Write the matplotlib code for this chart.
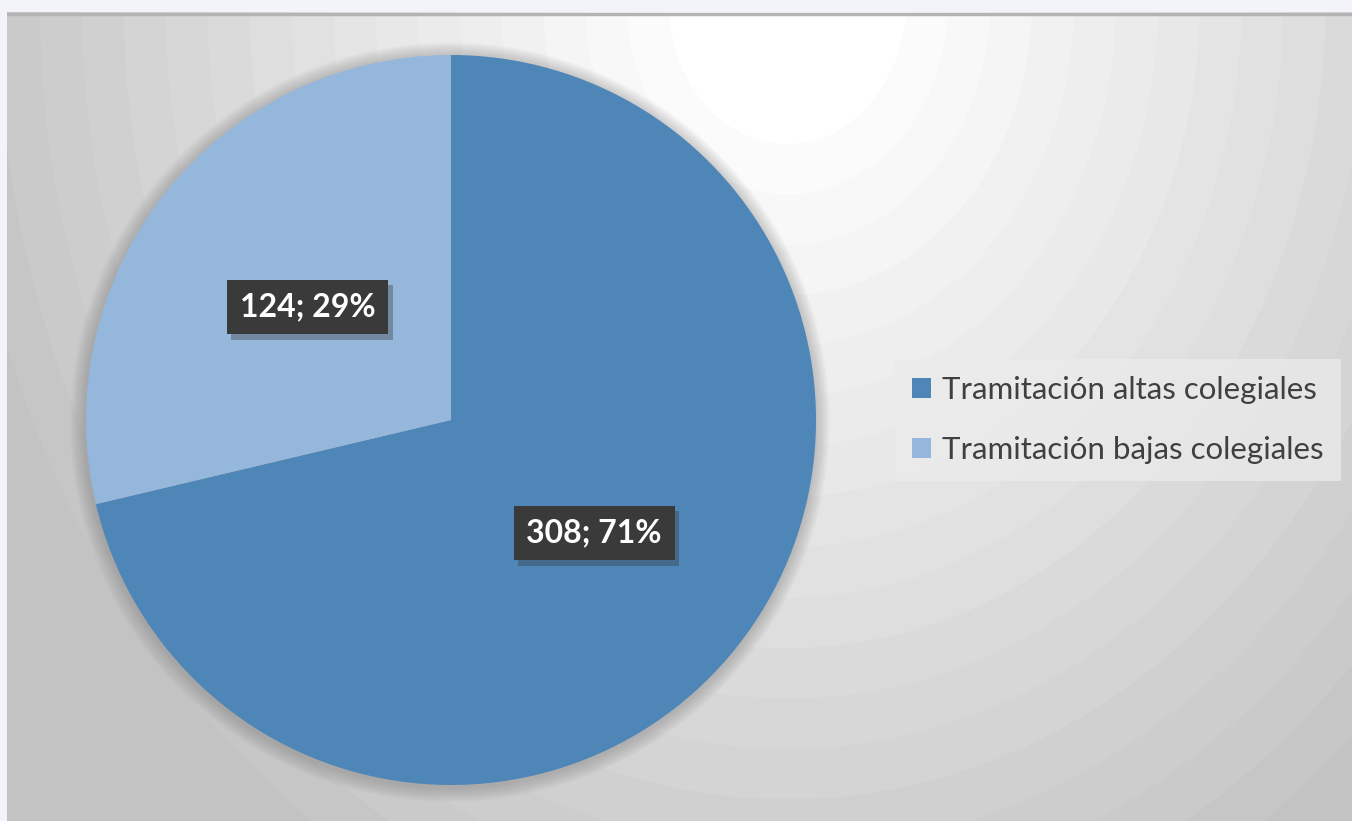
import numpy as np
import matplotlib
matplotlib.use("Agg")
import matplotlib.pyplot as plt
from matplotlib.patches import Circle, Patch
from matplotlib import patheffects as pe

# datos
categorias = ["Tramitación altas colegiales", "Tramitación bajas colegiales"]
valores = [308, 124]
colores = ["#4f86b8", "#95b7db"]

plt.rcParams["font.family"] = ["Lato", "DejaVu Sans"]

W, H = 1352, 821
fig = plt.figure(figsize=(W / 100, H / 100), dpi=100)
fig.patch.set_facecolor("#f3f4fa")

# fondo con degradado radial (por bandas)
bg = fig.add_axes([7 / W, 0, 1 - 7 / W, (H - 12) / H])
yy, xx = np.mgrid[0:809, 0:1345]
d = np.sqrt(((xx - 780) / 1.0) ** 2 + ((yy + 10) / 1.2) ** 2)
g = 1 - 0.00031 * np.clip(d - 80, 0, None)
g = np.clip(g, 0.76, 1)
g = np.ceil(g / 0.013) * 0.013
g = np.clip(g, 0, 1)
bg.imshow(np.dstack([g, g, g]), aspect="auto", extent=[0, 1, 0, 1], origin="upper")
bg.plot([0, 1], [0.998, 0.998], color="#b4b4b4", lw=2.5, transform=bg.transAxes)
bg.set_xlim(0, 1)
bg.set_ylim(0, 1)
bg.axis("off")

# tarta
ax = fig.add_axes([(451 - 400) / W, (H - 420 - 400) / H, 800 / W, 800 / H])
ax.axis("off")

total = sum(valores)


def etiqueta(p):
    v = int(round(p * total / 100))
    return f"{v}; {p:.0f}%"


wedges, texts, autotexts = ax.pie(valores, colors=colores, startangle=90,
                                  counterclock=False, radius=1,
                                  autopct=etiqueta, pctdistance=0.5,
                                  wedgeprops=dict(linewidth=0))
ax.set_xlim(-400 / 365, 400 / 365)
ax.set_ylim(-400 / 365, 400 / 365)
ax.set_aspect("equal")

# sombra suave alrededor
for i in range(10):
    ax.add_patch(Circle((-0.003, -0.006), 1.0 + 0.004 * (10 - i), color="#777777",
                        alpha=0.045, lw=0, zorder=0))
for w in wedges:
    w.set_zorder(2)

for at in autotexts:
    at.set_fontsize(23)
    at.set_fontweight("bold")
    at.set_color("white")
    at.set_zorder(4)
    at.set_bbox(dict(boxstyle="square,pad=0.4", fc="#3a3a3a", ec="none"))
    at.get_bbox_patch().set_path_effects(
        [pe.SimplePatchShadow(offset=(3, -4), shadow_rgbFace="#333333", alpha=0.35),
         pe.Normal()])

# leyenda
handles = [Patch(facecolor=c, edgecolor="none") for c in colores]
leg = fig.legend(handles, categorias, loc="center left",
                 bbox_to_anchor=(895 / W, (H - 420) / H),
                 fontsize=22.5, frameon=True, fancybox=False,
                 handlelength=0.6, handleheight=0.6, handletextpad=0.35,
                 labelspacing=1.0, borderpad=0.55, borderaxespad=0)
leg.get_frame().set_facecolor("#ebebeb")
leg.get_frame().set_alpha(0.75)
leg.get_frame().set_edgecolor("none")
for txt in leg.get_texts():
    txt.set_color("#404040")

fig.savefig("out.png", dpi=100, facecolor=fig.get_facecolor())
